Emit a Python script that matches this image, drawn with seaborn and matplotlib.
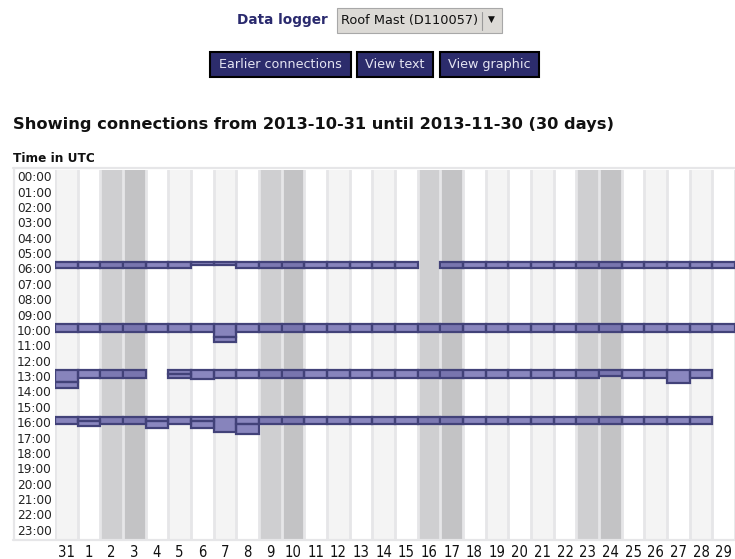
import matplotlib
matplotlib.use("Agg")
import matplotlib.pyplot as plt
from matplotlib.patches import Rectangle, FancyBboxPatch
from matplotlib.lines import Line2D
from matplotlib import font_manager
import seaborn as sns

# ---- data -------------------------------------------------------------
day_labels = [31, 1, 2, 3, 4, 5, 6, 7, 8, 9, 10, 11, 12, 13, 14, 15,
              16, 17, 18, 19, 20, 21, 22, 23, 24, 25, 26, 27, 28, 29]
# column shading: 0 = white, 1 = light, 2 = saturday, 3 = sunday
day_shade = [1, 0, 2, 3, 0, 1, 0, 1, 0, 2, 3, 0, 1, 0, 1, 0,
             2, 3, 0, 1, 0, 1, 0, 2, 3, 0, 1, 0, 1, 0]

hour_labels = ["00:00", "01:00", "02:00", "03:00", "04:00", "05:00",
               "06:00", "07:00", "08:00", "09:00", "10:00", "11:00",
               "12:00", "13:00", "14:00", "15:00", "16:00", "17:00",
               "18:00", "19:00", "20:00", "21:00", "22:00", "23:00"]

# scheduled connection slots (start time) and the end time per day ("" = no call)
slot_starts = ["06:00", "10:02", "13:01", "16:02"]
end_0600 = ["06:21", "06:21", "06:21", "06:21", "06:21", "06:21", "06:12", "06:12",
            "06:21", "06:21", "06:21", "06:21", "06:21", "06:21", "06:21", "06:21",
            "", "06:21", "06:21", "06:21", "06:21", "06:21", "06:21", "06:21",
            "06:21", "06:21", "06:21", "06:21", "06:21", "06:21"]
end_1000 = ["10:32", "10:32", "10:32", "10:32", "10:32", "10:32", "10:32", "10:51",
            "10:32", "10:32", "10:32", "10:32", "10:32", "10:32", "10:32", "10:32",
            "10:32", "10:32", "10:32", "10:32", "10:32", "10:32", "10:32", "10:32",
            "10:32", "10:32", "10:32", "10:32", "10:32", "10:32"]
end_1300 = ["13:47", "13:30", "13:30", "13:30", "", "13:16", "13:35", "13:30",
            "13:30", "13:30", "13:30", "13:30", "13:30", "13:30", "13:30", "13:30",
            "13:30", "13:30", "13:30", "13:30", "13:30", "13:30", "13:30", "13:30",
            "13:22", "13:30", "13:30", "13:53", "13:30", ""]
end_1600 = ["16:31", "16:19", "16:31", "16:31", "16:19", "16:31", "16:19", "17:04",
            "16:31", "16:31", "16:31", "16:31", "16:31", "16:31", "16:31", "16:31",
            "16:31", "16:31", "16:31", "16:31", "16:31", "16:31", "16:31", "16:31",
            "16:31", "16:31", "16:31", "16:31", "16:31", ""]
slot_ends = [end_0600, end_1000, end_1300, end_1600]

# follow-up connections right after the scheduled one
extra_day = [7, 31, 5, 1, 4, 6, 8]
extra_start = ["10:51", "13:47", "13:16", "16:19", "16:19", "16:19", "16:31"]
extra_end = ["11:12", "14:11", "13:30", "16:38", "16:46", "16:46", "17:10"]

# ---- helpers ----------------------------------------------------------
W, H = 735, 559


def hours(t):
    h, m = t.split(":")
    return int(h) + int(m) / 60.0


def fx(x):
    return x / W


def fy(y):
    return 1 - y / H


shade_colors = ["#ffffff", "#f4f4f4", "#cfcfd1", "#c3c3c5"]
sep_color = "#e6e6e8"
bar_face = (89 / 255, 85 / 255, 165 / 255, 0.7)
bar_edge = "#424279"
navy = "#2c2c6c"

sns.set_theme(style="white")
plt.rcParams["font.family"] = ["DejaVu Sans"]

# narrow face for the day numbers, if the condensed cut is installed
cond = font_manager.FontProperties(family="DejaVu Sans", stretch="condensed", size=10.6)
cond_path = font_manager.findfont(cond)
if "Condensed" in cond_path:
    day_font = font_manager.FontProperties(fname=cond_path, size=10.6)
else:
    day_font = font_manager.FontProperties(family="DejaVu Sans", size=9.8)

fig = plt.figure(figsize=(W / 100, H / 100), dpi=100)

# ---- header controls ----------------------------------------------------
fig.text(fx(282), fy(20), "Data logger", ha="center", va="center",
         fontsize=9.8, fontweight="bold", color="#2a2a6e")
fig.patches.append(FancyBboxPatch((fx(337), fy(33)), fx(165), 25 / H,
                                  boxstyle="square,pad=0", transform=fig.transFigure,
                                  facecolor="#dcdad6", edgecolor="#a8a8a8", lw=0.8))
fig.text(fx(341), fy(20.5), "Roof Mast (D110057)", ha="left", va="center",
         fontsize=9.3, color="#111111")
fig.lines.append(Line2D([fx(481.5), fx(481.5)], [fy(12), fy(30)],
                        transform=fig.transFigure, color="#9a9a9a", lw=0.8))
fig.text(fx(491), fy(19.5), "\u25bc", ha="center", va="center",
         fontsize=6.5, color="#111111")

buttons = [("Earlier connections", 209, 352), ("View text", 356, 434),
           ("View graphic", 439, 540)]
for label, x0, x1 in buttons:
    fig.patches.append(Rectangle((fx(x0 + 1), fy(77)), fx(x1 - x0 - 2), 25 / H,
                                 transform=fig.transFigure, facecolor=navy,
                                 edgecolor="#000000", lw=1.5))
    fig.text(fx((x0 + x1) / 2), fy(64.5), label, ha="center", va="center",
             fontsize=9.2, color="#e4e4f2")

fig.text(fx(13), fy(124), "Showing connections from 2013-10-31 until 2013-11-30 (30 days)",
         ha="left", va="center", fontsize=11.7, fontweight="bold", color="#111111")
fig.text(fx(13), fy(158), "Time in UTC", ha="left", va="center",
         fontsize=8.7, fontweight="bold", color="#111111")

# table frame
for (xa, ya, xb, yb) in [(13, 168.5, 735, 168.5), (13.5, 168, 13.5, 540),
                         (13, 539.5, 735, 539.5)]:
    fig.lines.append(Line2D([fx(xa), fx(xb)], [fy(ya), fy(yb)],
                            transform=fig.transFigure, color=sep_color, lw=1.6))

# ---- chart ----------------------------------------------------------------
ax = fig.add_axes([fx(55), fy(539), fx(680), 369 / H])
ax.set_xlim(0, 30)
ax.set_ylim(24, 0)

for i, s in enumerate(day_shade):
    ax.axvspan(i, i + 1, color=shade_colors[s], lw=0, zorder=0)
for i in range(31):
    ax.axvline(i, color=sep_color, lw=2.0, zorder=1)

x_pos = list(range(len(day_labels)))
for start, ends in zip(slot_starts, slot_ends):
    xs, bottoms, heights = [], [], []
    for i, e in enumerate(ends):
        if e:
            xs.append(i)
            bottoms.append(hours(start))
            heights.append(hours(e) - hours(start))
    ax.bar(xs, heights, bottom=bottoms, width=1.0, align="edge",
           facecolor=bar_face, edgecolor=bar_edge, linewidth=1.6, zorder=3)

ex_x = [day_labels.index(d) for d in extra_day]
ex_b = [hours(s) for s in extra_start]
ex_h = [hours(e) - hours(s) for s, e in zip(extra_start, extra_end)]
ax.bar(ex_x, ex_h, bottom=ex_b, width=1.0, align="edge",
       facecolor=bar_face, edgecolor=bar_edge, linewidth=1.6, zorder=3)

ax.set_xticks([i + 0.5 for i in x_pos])
ax.set_xticklabels([str(d) for d in day_labels], color="#111111")
for t in ax.get_xticklabels():
    t.set_fontproperties(day_font)
ax.set_yticks([h + 0.4 for h in range(24)])
ax.set_yticklabels(hour_labels, fontsize=8.7, color="#222222")
ax.tick_params(axis="x", length=0, pad=4.5)
ax.tick_params(axis="y", length=0, pad=27.5)
for t in ax.get_yticklabels():
    t.set_horizontalalignment("left")
for sp in ax.spines.values():
    sp.set_visible(False)
ax.grid(False)

fig.savefig("out.png", dpi=100)
